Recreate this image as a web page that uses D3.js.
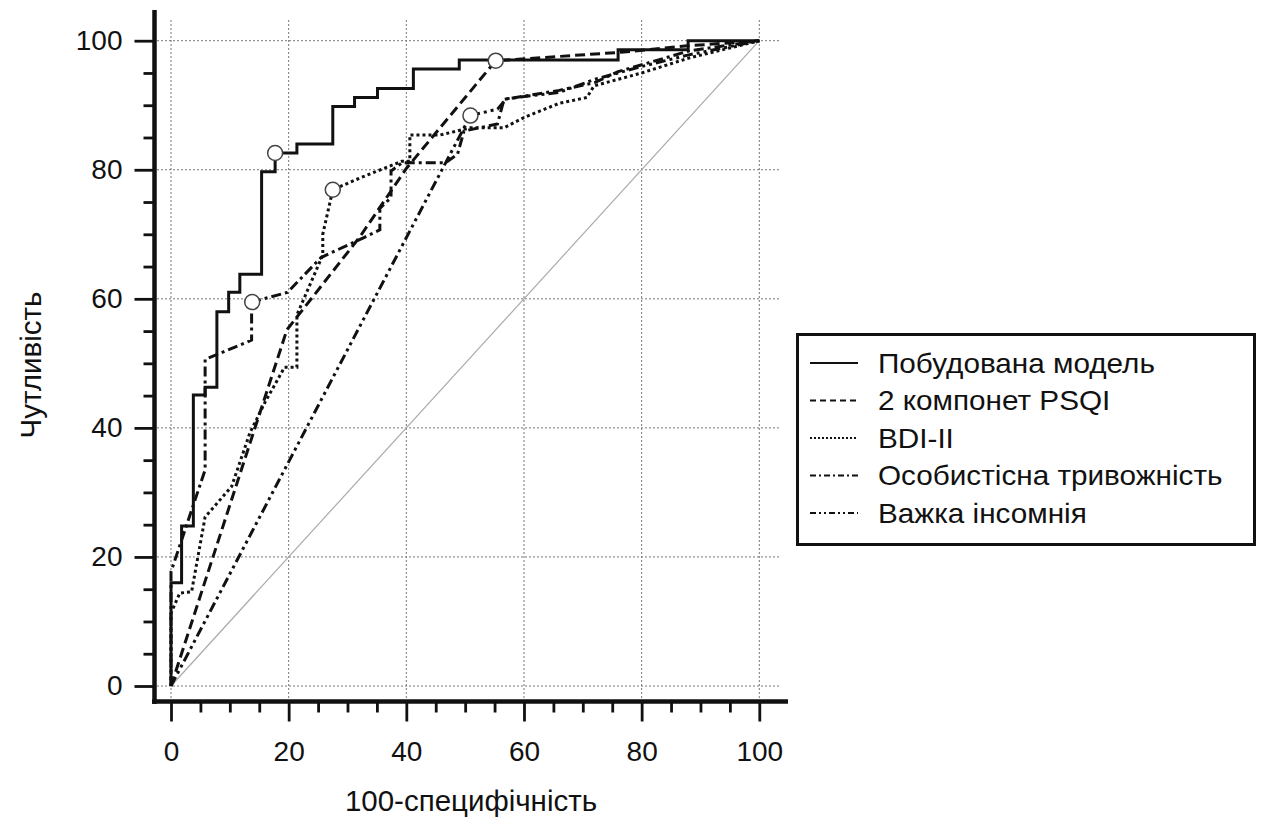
<!DOCTYPE html>
<html><head><meta charset="utf-8">
<script src="https://cdn.jsdelivr.net/npm/d3@7"></script>
<style>
body{margin:0;background:#fff}
text{font-family:"Liberation Sans",Arial,sans-serif;fill:#111}
</style>
</head><body>
<svg id="c" width="1263" height="819"></svg>
<script>
// ---- data ----
const xTicks = [0, 20, 40, 60, 80, 100];
const yTicks = [0, 20, 40, 60, 80, 100];
const minorTicks = [5, 10, 15, 25, 30, 35, 45, 50, 55, 65, 70, 75, 85, 90, 95];
const xTitle = "100-специфічність";
const yTitle = "Чутливість";
const seriesNames = ["Побудована модель", "2 компонет PSQI", "BDI-II", "Особистісна тривожність", "Важка інсомнія"];

const modelPts = [[0,0],[0,16],[1.8,16],[1.8,24.8],[3.8,24.8],[3.8,45.1],[5.8,45.1],[5.8,46.3],[7.8,46.3],[7.8,58],[9.8,58],[9.8,61],[11.7,61],[11.7,63.8],[15.4,63.8],[15.4,79.7],[17.7,79.7],[17.7,82.6],[21.4,82.6],[21.4,84],[27.5,84],[27.5,89.8],[31.2,89.8],[31.2,91.2],[35.1,91.2],[35.1,92.6],[41.2,92.6],[41.2,95.6],[49,95.6],[49,97],[76,97],[76,98.6],[87.9,98.6],[87.9,100],[100,100]];
const psqiPts = [[0,0],[19.7,55.2],[32.1,69.6],[40,80.2],[55.2,96.9],[76.4,98.2],[87.8,99.2],[100,100]];
const bdiPts = [[0,0],[0,11.3],[1.5,14.4],[3.5,14.6],[5.8,26.2],[10.3,30.9],[13.4,39.2],[16,44],[19.3,49.4],[21.4,49.4],[21.4,57.5],[25.8,66.8],[25.8,70],[27.5,76.9],[32.3,78.8],[39.2,81.3],[40.6,81.3],[40.6,85.4],[45.8,85.4],[50.9,86.5],[56.6,86.5],[60,88.1],[66,90.3],[70.7,91.2],[71.9,93],[80,95],[88,97.3],[100,100]];
const anxietyPts = [[0,0],[0,17.7],[5.8,33.5],[5.8,50.6],[13.7,53.6],[13.7,59.5],[19.8,61],[25.5,66.4],[32.8,69.5],[35.5,70.7],[35.5,74],[37.4,75.7],[37.4,79.8],[39.3,81.1],[46.7,81.1],[48.7,82.4],[49.8,86],[55.5,87.1],[56.6,90.9],[66,92.3],[72,93.5],[76,95.2],[88,98.4],[100,100]];
const insomniaPts = [[0,0],[50.9,88.4],[55.5,89.4],[57,91],[66,92],[72,94],[80,96],[88,97.8],[100,100]];
const cutoffPts = [[17.7,82.6],[55.2,96.9],[27.5,76.9],[13.8,59.5],[50.9,88.4]];

// ---- styles ----
const dashes = [null, "10,5", "3,3", "10,4,3,4", "10,4,3,4,3,4"];
const legendDashes = [null, "6,4", "2,2", "6,3,2,3", "6,3,2,3,2,3"];
const allSeries = [modelPts, psqiPts, bdiPts, anxietyPts, insomniaPts];

const svg = d3.select("#c");
const x = d3.scaleLinear().domain([0, 100]).range([171, 759.3]);
const y = d3.scaleLinear().domain([0, 100]).range([686, 40.7]);

// grid
const grid = svg.append("g").attr("stroke", "#777").attr("stroke-width", 1).attr("stroke-dasharray", "2,2");
grid.selectAll(".gh").data(yTicks).join("line")
  .attr("x1", 157).attr("x2", 779).attr("y1", d => y(d)).attr("y2", d => y(d));
grid.selectAll(".gv").data(xTicks).join("line")
  .attr("x1", d => x(d)).attr("x2", d => x(d)).attr("y1", 20).attr("y2", 699);

// diagonal
svg.append("line").attr("x1", x(0)).attr("y1", y(0)).attr("x2", x(100)).attr("y2", y(100))
  .attr("stroke", "#aaa").attr("stroke-width", 1.2);

// curves
const line = d3.line().x(d => x(d[0])).y(d => y(d[1]));
allSeries.forEach((pts, i) => {
  svg.append("path").attr("d", line(pts)).attr("fill", "none")
    .attr("stroke", "#111").attr("stroke-width", 3)
    .attr("stroke-dasharray", dashes[i]);
});
svg.selectAll(".cut").data(cutoffPts).join("circle")
  .attr("cx", d => x(d[0])).attr("cy", d => y(d[1])).attr("r", 7.5)
  .attr("fill", "#fff").attr("stroke", "#444").attr("stroke-width", 1.5);

// axes
const yMaj = svg.append("g").attr("transform", "translate(154.5,0)")
  .call(d3.axisLeft(y).tickValues(yTicks).tickSize(20).tickPadding(12).tickSizeOuter(0));
const yMin = svg.append("g").attr("transform", "translate(154.5,0)")
  .call(d3.axisLeft(y).tickValues(minorTicks).tickSize(11).tickFormat("").tickSizeOuter(0));
const xMaj = svg.append("g").attr("transform", "translate(0,701.5)")
  .call(d3.axisBottom(x).tickValues(xTicks).tickSize(20).tickPadding(20).tickSizeOuter(0));
const xMin = svg.append("g").attr("transform", "translate(0,701.5)")
  .call(d3.axisBottom(x).tickValues(minorTicks).tickSize(11).tickFormat("").tickSizeOuter(0));
[yMaj, yMin, xMaj, xMin].forEach(g => {
  g.select(".domain").remove();
  g.selectAll(".tick line").attr("stroke", "#111").attr("stroke-width", 2.8);
  g.selectAll("text").attr("font-size", 28).attr("fill", "#111")
    .style("font-family", '"Liberation Sans",Arial,sans-serif');
});
svg.append("line").attr("x1", 154.5).attr("x2", 154.5).attr("y1", 10).attr("y2", 704)
  .attr("stroke", "#111").attr("stroke-width", 4.5);
svg.append("line").attr("x1", 152).attr("x2", 788).attr("y1", 701.5).attr("y2", 701.5)
  .attr("stroke", "#111").attr("stroke-width", 4.5);

// axis titles
svg.append("text").attr("x", 471).attr("y", 811).attr("text-anchor", "middle")
  .attr("font-size", 29.5).text(xTitle);
svg.append("text").attr("transform", "translate(41,365) rotate(-90)").attr("text-anchor", "middle")
  .attr("font-size", 29.5).text(yTitle);

// legend
svg.append("rect").attr("x", 797.5).attr("y", 334.5).attr("width", 457).attr("height", 210)
  .attr("fill", "#fff").attr("stroke", "#111").attr("stroke-width", 3);
const leg = svg.selectAll(".leg").data(seriesNames).join("g")
  .attr("transform", (d, i) => `translate(0,${363 + i * 37.5})`);
leg.append("line").attr("x1", 810).attr("x2", 858).attr("y1", 0).attr("y2", 0)
  .attr("stroke", "#111").attr("stroke-width", 2.2)
  .attr("stroke-dasharray", (d, i) => legendDashes[i]);
leg.append("text").attr("transform", "translate(878,9.5) scale(1.08,1)")
  .attr("font-size", 27.5).text(d => d);
</script>
</body></html>
